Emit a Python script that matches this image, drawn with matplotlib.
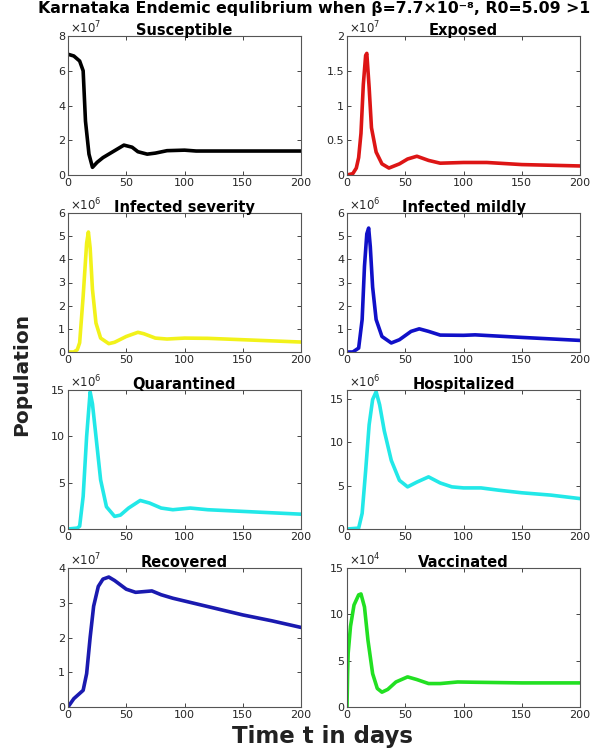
#!/usr/bin/env python3
"""Karnataka endemic equilibrium: 8 compartment panels."""

import matplotlib
matplotlib.use("Agg")
import matplotlib.pyplot as plt

# values are in units of 10^exp (exp given per panel)
t_sus = [0, 5, 10, 13, 15, 18, 21, 25, 30, 40, 48, 55, 60, 68, 75, 85, 100, 110, 150, 200]
v_sus = [6.95, 6.85, 6.56, 6.0, 3.1, 1.2, 0.44, 0.73, 1.0, 1.4, 1.72, 1.6, 1.34, 1.2, 1.26, 1.4, 1.43, 1.38, 1.38, 1.38]

t_exp = [0, 5, 8, 10, 12, 14, 16, 17, 19, 21, 25, 30, 36, 45, 52, 60, 70, 80, 100, 120, 150, 200]
v_exp = [0.0, 0.02, 0.1, 0.25, 0.6, 1.3, 1.72, 1.75, 1.26, 0.68, 0.33, 0.16, 0.10, 0.16, 0.23, 0.27, 0.21, 0.17, 0.18, 0.18, 0.15, 0.13]

t_sev = [0, 5, 8, 10, 13, 16, 17.5, 19, 21, 24, 28, 35, 40, 50, 60, 65, 75, 85, 100, 120, 150, 200]
v_sev = [0.0, 0.0, 0.1, 0.4, 2.4, 4.7, 5.18, 4.5, 2.7, 1.25, 0.6, 0.36, 0.42, 0.67, 0.85, 0.79, 0.6, 0.56, 0.6, 0.59, 0.53, 0.43]

t_mild = [0, 5, 10, 13, 15, 17, 18.6, 20, 22, 25, 30, 38, 45, 55, 62, 70, 80, 100, 110, 150, 200]
v_mild = [0.0, 0.0, 0.17, 1.4, 3.7, 5.1, 5.35, 4.54, 2.8, 1.4, 0.67, 0.39, 0.53, 0.89, 1.0, 0.89, 0.73, 0.72, 0.74, 0.63, 0.5]

t_quar = [0, 8, 10, 13, 16, 19, 21, 24, 28, 33, 40, 45, 52, 62, 70, 80, 90, 105, 120, 150, 200]
v_quar = [0.0, 0.1, 0.3, 3.5, 10.0, 14.8, 13.5, 10.0, 5.3, 2.4, 1.36, 1.5, 2.26, 3.08, 2.8, 2.26, 2.08, 2.26, 2.08, 1.9, 1.6]

t_hosp = [0, 10, 13, 16, 19, 22, 25, 28, 32, 38, 45, 52, 60, 70, 80, 90, 100, 115, 130, 150, 175, 200]
v_hosp = [0.0, 0.1, 1.8, 6.7, 12.0, 14.9, 15.8, 14.3, 11.3, 7.9, 5.6, 4.85, 5.4, 6.0, 5.3, 4.85, 4.73, 4.73, 4.47, 4.17, 3.9, 3.5]

t_rec = [0, 5, 10, 13, 16, 19, 22, 26, 30, 35, 40, 50, 58, 65, 72, 80, 90, 100, 120, 150, 175, 200]
v_rec = [0.0, 0.24, 0.39, 0.48, 0.96, 2.0, 2.9, 3.47, 3.68, 3.74, 3.64, 3.39, 3.3, 3.32, 3.34, 3.23, 3.13, 3.05, 2.89, 2.65, 2.48, 2.29]

t_vac = [0, 0.5, 1, 3, 6, 10, 12, 15, 18, 22, 26, 30, 35, 42, 52, 60, 70, 80, 95, 110, 150, 200]
v_vac = [0.0, 3.5, 5.8, 8.7, 11.0, 12.1, 12.2, 10.8, 7.2, 3.6, 2.0, 1.6, 1.9, 2.7, 3.25, 2.96, 2.53, 2.53, 2.7, 2.67, 2.6, 2.6]

panels = [
    ("Susceptible", t_sus, v_sus, 7, "#000000", (0, 8), [0, 2, 4, 6, 8], ["0", "2", "4", "6", "8"]),
    ("Exposed", t_exp, v_exp, 7, "#dd1515", (0, 2), [0, 0.5, 1, 1.5, 2], ["0", "0.5", "1", "1.5", "2"]),
    ("Infected severity", t_sev, v_sev, 6, "#f2f21a", (0, 6), list(range(7)), [str(i) for i in range(7)]),
    ("Infected mildly", t_mild, v_mild, 6, "#1010c8", (0, 6), list(range(7)), [str(i) for i in range(7)]),
    ("Quarantined", t_quar, v_quar, 6, "#22e8e8", (0, 15), [0, 5, 10, 15], ["0", "5", "10", "15"]),
    ("Hospitalized", t_hosp, v_hosp, 6, "#22e8e8", (0, 16), [0, 5, 10, 15], ["0", "5", "10", "15"]),
    ("Recovered", t_rec, v_rec, 7, "#1a1ab0", (0, 4), [0, 1, 2, 3, 4], ["0", "1", "2", "3", "4"]),
    ("Vaccinated", t_vac, v_vac, 4, "#22e022", (0, 15), [0, 5, 10, 15], ["0", "5", "10", "15"]),
]

W, H = 591, 753
fig = plt.figure(figsize=(W / 100, H / 100), dpi=100)

col_left = [68, 347]
axw = 233
row_bottom = [175, 352, 529, 707]
axh = 139

for i, (name, t, v, ex, col, ylim, yt, ytl) in enumerate(panels):
    r, c = divmod(i, 2)
    ax = fig.add_axes([col_left[c] / W, 1 - row_bottom[r] / H, axw / W, axh / H])
    ax.plot(t, v, color=col, lw=2.6, solid_joinstyle="round")
    ax.set_xlim(0, 200)
    ax.set_ylim(*ylim)
    ax.set_xticks([0, 50, 100, 150, 200])
    ax.set_yticks(yt)
    ax.set_yticklabels(ytl)
    ax.tick_params(direction="in", top=True, right=True, length=3, width=0.6,
                   labelsize=8, colors="#262626", pad=2)
    for s in ax.spines.values():
        s.set_color("#555555")
        s.set_linewidth(0.8)
    ax.set_title(name, fontsize=10.5, fontweight="bold", pad=1)
    ax.text(0.01, 1.0, r"$\times10^{%d}$" % ex, transform=ax.transAxes,
            ha="left", va="bottom", fontsize=8.5, color="#262626")

# the reference crops the end of this title; kept whole here
fig.text(38 / W, 1 - 8 / H, "Karnataka Endemic equlibrium when β=7.7×10⁻⁸, R0=5.09 >1",
         ha="left", va="center", fontsize=11.3, fontweight="bold")
fig.text(22 / W, 1 - 374 / H, "Population", rotation=90, ha="center", va="center",
         fontsize=14.5, fontweight="bold", color="#222222")
fig.text(323 / W, 1 - 737 / H, "Time t in days", ha="center", va="center",
         fontsize=16.5, fontweight="bold", color="#222222")

fig.savefig("out.png", dpi=100)
